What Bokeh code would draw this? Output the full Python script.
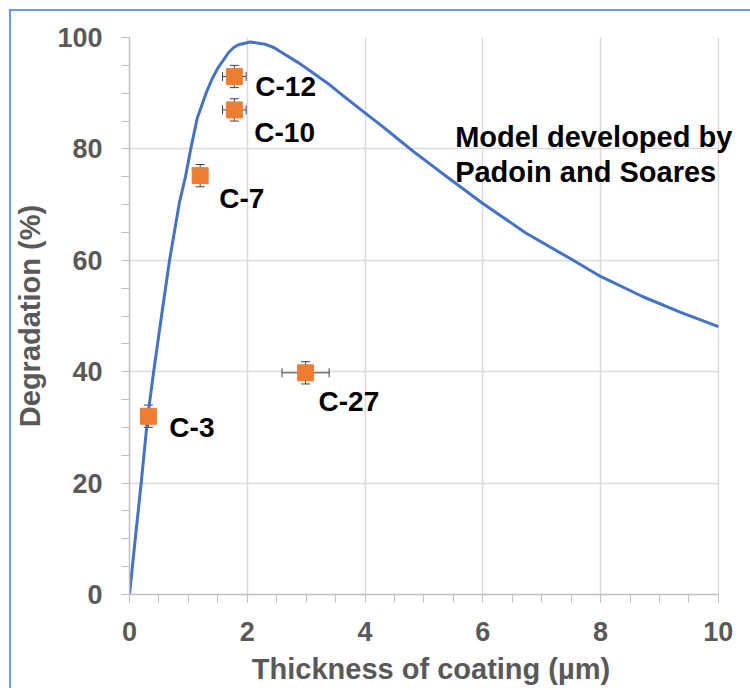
from bokeh.plotting import figure
from bokeh.models import Range1d, SingleIntervalTicker, ColumnDataSource, Whisker, TeeHead, BoxAnnotation
from bokeh.core.properties import value
from bokeh.embed import file_html
from bokeh.resources import INLINE

# Model curve (Padoin and Soares)
model_x = [0, 0.1, 0.2, 0.31, 0.41, 0.55, 0.68, 0.85, 0.95, 1.04, 1.15, 1.3, 1.4, 1.5, 1.69, 1.77,
           1.85, 2.05, 2.3, 2.45, 2.6, 2.88, 3.16, 3.4, 3.62, 4.02, 4.3, 4.58, 4.85, 5.14, 5.4,
           5.71, 6.0, 6.73, 7.47, 8.0, 8.71, 9.35, 10.0]
model_y = [0, 10.2, 20.2, 32, 40, 50.5, 60, 70.5, 75, 80, 85.5, 90, 92.5, 94.5, 97.4, 98.2,
           98.7, 99.2, 98.8, 98.2, 97.2, 95.4, 93.3, 91.5, 89.6, 86.3, 84.0, 81.6, 79.3, 77.0, 74.9,
           72.5, 70.2, 64.9, 60.4, 57.1, 53.5, 50.7, 48.1]

# Experimental coatings
samples = ["C-12", "C-10", "C-7", "C-3", "C-27"]
thickness = [1.78, 1.78, 1.20, 0.32, 2.99]
degradation = [93.0, 87.0, 75.2, 32.0, 39.8]
thickness_err = [0.2, 0.2, 0.0, 0.0, 0.4]
degradation_err = [2.0, 2.0, 2.0, 2.0, 2.0]

model_label = ["Model developed by", "Padoin and Soares"]

x_min, x_max = 0, 10
y_min, y_max = 0, 100
x_ticks_interval = 2
y_ticks_interval = 20

FONT = "Liberation Sans"
GRAY = "#595959"

# the visible frame is a little wider than the axis so that the annotation may overflow x_max
p = figure(frame_width=603, frame_height=557,
           min_border_left=116, min_border_right=18, min_border_top=26, min_border_bottom=94,
           x_range=Range1d(x_min, 10.24), y_range=Range1d(y_min, y_max),
           output_backend="svg", toolbar_location=None)
p.styles = {"border-left": "2px solid #6F9BDB", "border-top": "2px solid #6F9BDB",
            "margin-left": "9px", "margin-top": "9px"}
p.outline_line_color = None
p.background_fill_color = "white"

p.xaxis.ticker = SingleIntervalTicker(interval=x_ticks_interval, num_minor_ticks=4)
p.yaxis.ticker = SingleIntervalTicker(interval=y_ticks_interval, num_minor_ticks=4)
p.xaxis.bounds = (x_min, x_max)

for ax in (p.xaxis, p.yaxis):
    ax.axis_line_color = "#bfbfbf"
    ax.axis_line_width = 1.5
    ax.major_tick_line_color = "#bfbfbf"
    ax.minor_tick_line_color = "#bfbfbf"
    ax.major_tick_in = 0
    ax.major_tick_out = 8
    ax.minor_tick_in = 0
    ax.minor_tick_out = 8
    ax.major_label_text_font = FONT
    ax.major_label_text_font_style = "bold"
    ax.major_label_text_font_size = "27px"
    ax.major_label_text_color = GRAY
    ax.axis_label_text_font = FONT
    ax.axis_label_text_font_style = "bold"
    ax.axis_label_text_font_size = "29px"
    ax.axis_label_text_color = GRAY

p.xaxis.axis_label = "Thickness of coating (µm)"
p.yaxis.axis_label = "Degradation (%)"
p.xaxis.major_label_standoff = 19
p.yaxis.major_label_standoff = 19
p.xaxis.axis_label_standoff = 9
p.yaxis.axis_label_standoff = 8

p.grid.grid_line_color = "#d9d9d9"
p.grid.grid_line_width = 1.5

# white mask over the grid beyond x_max
p.add_layout(BoxAnnotation(left=x_max + 0.015, fill_color="white", fill_alpha=1.0,
                           line_color=None, level="underlay"))

p.line(model_x, model_y, line_color="#4472C4", line_width=3, line_join="round")

lo_x = [t - e for t, e in zip(thickness, thickness_err)]
hi_x = [t + e for t, e in zip(thickness, thickness_err)]
lo_y = [d - e for d, e in zip(degradation, degradation_err)]
hi_y = [d + e for d, e in zip(degradation, degradation_err)]
src = ColumnDataSource(dict(x=thickness, y=degradation, lx=lo_x, hx=hi_x, ly=lo_y, hy=hi_y, name=samples))

wy = Whisker(source=src, base="x", lower="ly", upper="hy", dimension="height",
             line_color="#404040", line_width=1,
             upper_head=TeeHead(size=9, line_color="#404040", line_width=1),
             lower_head=TeeHead(size=9, line_color="#404040", line_width=1))
wx = Whisker(source=src, base="y", lower="lx", upper="hx", dimension="width",
             line_color="#404040", line_width=1,
             upper_head=TeeHead(size=9, line_color="#404040", line_width=1),
             lower_head=TeeHead(size=9, line_color="#404040", line_width=1))
p.add_layout(wy)
p.add_layout(wx)

p.scatter("x", "y", source=src, marker="square", size=16, fill_color="#ED7D31", line_color="#ED7D31")

label_dx = [21, 20, 19, 21, 13]
label_dy = [10, 23, 23, 11, 29]
lsrc = ColumnDataSource(dict(x=thickness, y=degradation, name=samples, dx=label_dx, dy=label_dy))
p.text("x", "y", text="name", source=lsrc, x_offset="dx", y_offset="dy",
       text_font=value(FONT), text_font_style="bold", text_font_size="28px",
       text_color="black", text_baseline="middle", text_align="left")

p.text(x=[5.53, 5.53], y=[82.2, 75.9], text=model_label,
       text_font=value(FONT), text_font_style="bold", text_font_size="29px",
       text_color="black", text_baseline="middle", text_align="left")

open("out.html", "w").write(file_html(p, INLINE))
